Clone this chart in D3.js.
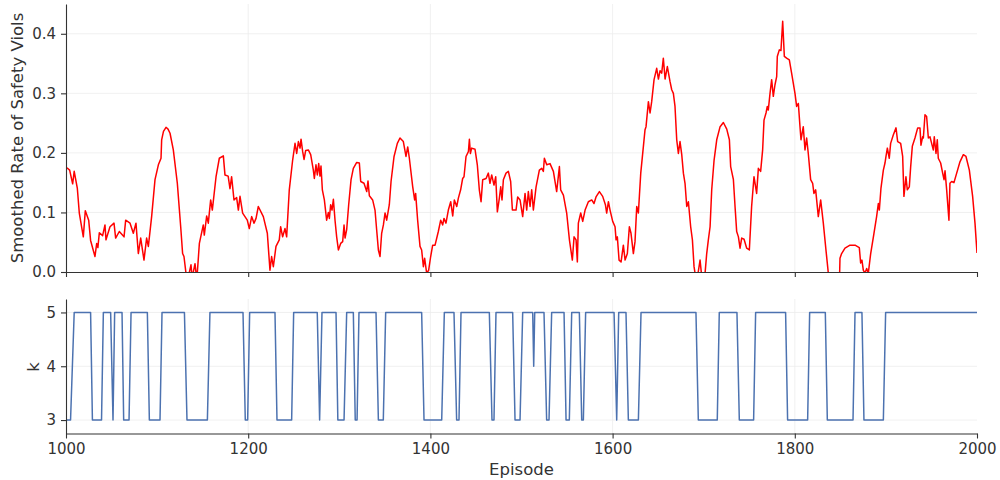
<!DOCTYPE html>
<html>
<head>
<meta charset="utf-8">
<script src="https://cdn.jsdelivr.net/npm/d3@7"></script>
<style>
    body { margin:0; background:#fff; }
    svg text { font-family:"DejaVu Sans", sans-serif; }
</style>
</head>
<body>
<svg id="chart" width="1000" height="480"></svg>
<script>
// smoothed violation rate
const violEpisodes = [
    1001,1004,1007.3,1009,1012.4,1014.6,1019,1021.2,1024.9,1027,1031.8,1033.7,1035,1036.6,1040.2,1042.8,1043.9,1048.3,
    1052.7,1054.5,1058.5,1063.7,1065.5,1070.3,1073.9,1076.8,1079.4,1082,1085.6,1088.5,1090.4,1094,1097.7,1101.4,1104.3,
    1105,1107,1109.8,1112,1114.2,1117.8,1122.2,1125.9,1128,1129.5,1131.7,1134,1137.2,1138.5,1141.6,1143,1144.2,1146.4,
    1150.7,1151.8,1154.4,1156.2,1158.8,1160.6,1164.7,1168.3,1172.7,1174.5,1178,1180,1181.8,1184.4,1187.3,1189.2,1191,
    1193.9,1199,1201.2,1203.8,1206.4,1208.6,1211.1,1216.6,1221,1223.9,1225.7,1227.6,1230.5,1234.1,1235.6,1237.8,1240.4,
    1242.2,1245.1,1248.8,1251.4,1253.2,1255.1,1256.9,1258,1259.8,1261.3,1263.1,1266,1268.6,1271.5,1272.6,1274.4,1275.9,
    1277.4,1278.8,1279.9,1281.4,1283.6,1286.1,1288,1289.1,1290.5,1292,1293.5,1295.3,1297.1,1299,1301.5,1303.7,1305.2,
    1306.3,1308.1,1310.3,1312.9,1315.4,1319.1,1322,1323.5,1327.1,1330.1,1331.5,1333,1336.6,1339.2,1341,1342.9,1344.7,
    1346.5,1348.4,1350.2,1352,1354.9,1356.8,1360.1,1363.7,1366.6,1370.3,1373.2,1375.1,1376.9,1380.6,1382.7,1383.8,1386,
    1388.6,1390.4,1392.3,1393.7,1395.9,1398.1,1400.3,1402.5,1405.1,1408.7,1411.3,1413.5,1414.9,1417.1,1419.7,1422.3,
    1424.5,1426.3,1428.9,1430.7,1433.2,1435.4,1436.9,1439.1,1441.7,1442.8,1443.9,1445.3,1449,1451.5,1453.7,1455.6,
    1457.4,1461.1,1463.6,1465.4,1467.3,1469.8,1471.7,1473.5,1475.7,1477.2,1478.6,1480.1,1483,1485.6,1488.1,1490,1494,
    1495.8,1498.4,1501.3,1503.9,1505.7,1507.5,1509.4,1511.2,1513,1516,1519.6,1522.2,1524,1525.1,1527.7,1531.3,1535,
    1538.6,1541.6,1543,1546,1549.6,1552.6,1555.8,1557.7,1559.9,1561.3,1562.4,1565,1567.2,1569.8,1573.4,1577.1,1579.6,
    1581.8,1585.5,1589.1,1592.1,1593.5,1595.4,1597.2,1600.1,1602.7,1603.8,1605.2,1607.1,1609.3,1611.8,1613.7,1616.2,
    1618.4,1620.2,1622.8,1624.6,1626.5,1628.3,1630.9,1633.8,1635.6,1636.7,1639.3,1641.1,1642.9,1645.5,1648.4,1650.3,
    1652.1,1653.9,1655.7,1657.6,1660.1,1663,1664.9,1666.7,1668.5,1670.4,1672.2,1674,1675.9,1677.7,1679.5,1681.4,1683.2,
    1685.7,1687.6,1689.4,1690.5,1693,1696,1698,1701.5,1703.3,1705.1,1707,1708.8,1711.4,1714.3,1718,1721.6,1725.3,
    1728.2,1729.6,1732.6,1734.4,1736.2,1738.1,1739.9,1741.7,1744.3,1747.2,1750.1,1752.6,1755.2,1758.1,1760,1762.5,
    1764.7,1766.2,1768.4,1769.8,1770.9,1772.8,1774.6,1776.4,1778.2,1780.1,1780.8,1783,1784.8,1786.7,1788.5,1791,1794,
    1796.5,1800.2,1802,1803.9,1805.7,1806.8,1809.3,1811.2,1813,1814.8,1817.4,1819.6,1821,1822.9,1825.8,1828.4,1831.3,
    1834.2,1836.8,1840,1845,1848.5,1849.6,1851.4,1855.1,1860.6,1866.1,1870.8,1872.3,1873.7,1875.2,1877,1878.9,1880.7,
    1883.3,1886.9,1889.8,1891.7,1892.8,1894.6,1897.2,1899,1900.1,1901.6,1903.7,1905.2,1908.1,1911.1,1912.9,1916.2,
    1918.4,1919.8,1922,1923.5,1925.7,1927.2,1929,1931.9,1934.9,1937.4,1938.5,1940.3,1941.1,1942.9,1944.7,1946.6,1948.4,
    1950.2,1952,1953.1,1955,1956.4,1957.5,1960.1,1962.3,1963.8,1964.9,1966.7,1969.2,1970.3,1972.2,1974.7,1977.7,1981.3,
    1985,1987.9,1991.6,1995.2,1997.8,2000
];
const violRates = [
    0.175,0.171,0.148,0.169,0.141,0.099,0.059,0.103,0.087,0.053,0.026,0.048,0.041,0.066,0.061,0.079,0.054,0.076,
    0.082,0.057,0.068,0.059,0.087,0.082,0.065,0.082,0.031,0.057,0.020,0.057,0.043,0.093,0.155,0.180,0.191,
    0.222,0.236,0.243,0.240,0.233,0.205,0.149,0.076,0.031,0.026,-0.002,-0.010,0.012,-0.010,0.014,-0.005,0.000,0.048,
    0.079,0.062,0.094,0.082,0.121,0.104,0.160,0.191,0.195,0.163,0.161,0.140,0.160,0.121,0.125,0.104,0.127,
    0.099,0.087,0.073,0.093,0.082,0.090,0.110,0.093,0.065,0.003,0.026,0.009,0.043,0.054,0.076,0.059,0.073,
    0.059,0.138,0.188,0.216,0.199,0.219,0.208,0.223,0.202,0.189,0.204,0.205,0.197,0.171,0.157,0.180,0.163,
    0.182,0.161,0.178,0.138,0.121,0.087,0.100,0.090,0.113,0.104,0.122,0.087,0.059,0.037,0.048,0.051,0.079,
    0.057,0.071,0.113,0.155,0.174,0.184,0.183,0.152,0.149,0.135,0.153,0.128,0.121,0.104,0.071,0.037,0.026,
    0.065,0.079,0.099,0.087,0.113,0.152,0.194,0.216,0.225,0.219,0.194,0.210,0.191,0.143,0.121,0.132,0.087,
    0.043,0.037,0.009,0.023,-0.002,0.003,0.026,0.045,0.045,0.068,0.087,0.079,0.090,0.082,0.104,0.118,
    0.094,0.121,0.110,0.124,0.138,0.157,0.160,0.194,0.202,0.223,0.199,0.208,0.206,0.180,0.138,0.118,
    0.155,0.157,0.166,0.149,0.163,0.146,0.160,0.101,0.124,0.143,0.121,0.155,0.166,0.169,0.152,0.104,0.104,
    0.126,0.121,0.093,0.132,0.104,0.135,0.110,0.138,0.104,0.143,0.171,0.174,0.169,0.191,0.180,0.182,0.169,
    0.135,0.177,0.138,0.129,0.099,0.054,0.020,0.059,0.054,0.017,0.082,0.099,0.085,0.104,0.118,0.121,0.115,
    0.126,0.135,0.127,0.113,0.099,0.118,0.104,0.085,0.076,0.054,0.059,0.020,0.017,0.045,0.020,0.031,
    0.076,0.065,0.031,0.051,0.110,0.099,0.166,0.211,0.239,0.244,0.286,0.267,0.286,0.323,0.342,0.324,
    0.338,0.334,0.359,0.324,0.345,0.320,0.306,0.300,0.278,0.222,0.199,0.219,0.197,0.166,0.149,0.110,0.118,
    0.076,0.054,0.009,-0.002,-0.010,0.020,-0.010,-0.002,0.031,0.054,0.076,0.138,0.188,0.222,0.244,0.251,0.240,
    0.222,0.177,0.155,0.110,0.068,0.059,0.040,0.057,0.055,0.040,0.037,0.110,0.160,0.132,0.174,0.169,
    0.205,0.255,0.267,0.278,0.272,0.300,0.323,0.295,0.314,0.328,0.362,0.373,0.372,0.421,0.362,0.359,0.356,
    0.334,0.300,0.278,0.283,0.244,0.222,0.244,0.205,0.225,0.199,0.155,0.149,0.132,0.138,0.093,0.121,0.082,
    0.037,-0.002,-0.060,-0.090,-0.050,0.023,0.031,0.040,0.045,0.045,0.041,0.015,0.020,0.003,-0.002,0.006,-0.002,
    0.031,0.065,0.093,0.115,0.104,0.141,0.171,0.183,0.194,0.208,0.191,0.216,0.230,0.242,0.219,0.216,
    0.194,0.127,0.160,0.138,0.143,0.177,0.211,0.225,0.242,0.242,0.213,0.227,0.225,0.264,0.261,0.225,0.227,
    0.216,0.205,0.227,0.199,0.222,0.191,0.183,0.166,0.155,0.170,0.138,0.087,0.149,0.152,0.150,0.166,0.185,
    0.197,0.194,0.171,0.127,0.082,0.032
];

// k per episode (corners of the step trace)
const kEpisodes = [
    1000,1005,1009,1027,1029,1039,1041,1049,1051.6,1053.4,1061.5,1063.3,1069.2,1071.4,1089.3,1091.5,1103.2,1105.4,
    1130,1132.8,1155.2,1158,1194.3,1196.8,1199.4,1201.6,1229.4,1231.6,1247.7,1249.9,1275.8,1278.4,1281,1296.4,1298.4,
    1305.2,1308.1,1315.4,1317.5,1319.5,1321.6,1340.3,1342.9,1348.3,1350.9,1390.4,1393,1412.4,1415.3,1425.9,1428.8,
    1431.4,1433.6,1464.7,1467.6,1469.8,1472,1490.3,1492.9,1498.4,1501.3,1512.3,1513.4,1514.5,1524.7,1527.6,1530.2,
    1533.1,1546.7,1548.9,1552.5,1555.1,1563.5,1566.1,1567.9,1570.4,1601.6,1604.5,1606.7,1614.7,1617.3,1628.3,1631.2,
    1691.5,1694.1,1714.9,1717.1,1736.5,1739.1,1754.8,1757,1789.9,1792.1,1814.1,1816.3,1833.5,1835.7,1863.9,1866.1,
    1873.7,1875.9,1897.2,1899.7,2000
];
const kValues = [
    3,3,5,5,3,3,5,5,3,5,5,3,3,5,5,3,3,5,
    5,3,3,5,5,3,3,5,5,3,3,5,5,3,5,5,3,
    3,5,5,3,3,5,5,3,3,5,5,3,3,5,5,3,
    3,5,5,3,3,5,5,3,3,5,5,4,5,5,3,3,
    5,5,3,3,5,5,3,3,5,5,3,5,5,3,3,5,
    5,3,3,5,5,3,3,5,5,3,3,5,5,3,3,5,
    5,3,3,5,5
];

const xTicks = [1000, 1200, 1400, 1600, 1800, 2000];
const violTicks = [0, 0.1, 0.2, 0.3, 0.4];
const kTicks = [3, 4, 5];

const AXIS_COLOUR = "#333";
const GRID_COLOUR = "#ececec";
const TICK_FONTSIZE = 15;
const LABEL_FONTSIZE = 16.5;

const svg = d3.select("#chart");
const left = 66, right = 977;

const x = d3.scaleLinear().domain([1000, 2000]).range([left, right]);

function drawPanel({ id, top, bottom, yDomain, yTicks, yFormat, xs, ys, colour, showXLabels }) {
    const y = d3.scaleLinear().domain(yDomain).range([bottom, top]);
    const g = svg.append("g").attr("class", `panel-${id}`);

    //grid
    g.append("g").selectAll("line.vgrid").data(xTicks.slice(1, -1))
        .join("line")
            .attr("class", "vgrid")
            .attr("x1", d => x(d)).attr("x2", d => x(d))
            .attr("y1", top).attr("y2", bottom)
            .attr("stroke", GRID_COLOUR)
            .attr("stroke-width", 0.8);
    g.append("g").selectAll("line.hgrid").data(yTicks.filter(d => y(d) < bottom - 1))
        .join("line")
            .attr("class", "hgrid")
            .attr("x1", left).attr("x2", right)
            .attr("y1", d => y(d)).attr("y2", d => y(d))
            .attr("stroke", GRID_COLOUR)
            .attr("stroke-width", 0.8);

    svg.append("clipPath").attr("id", `clip-${id}`)
        .append("rect")
            .attr("x", left).attr("y", top)
            .attr("width", right - left).attr("height", bottom - top);

    const line = d3.line()
        .x((d, i) => x(xs[i]))
        .y((d, i) => y(ys[i]));

    g.append("path")
        .datum(ys)
        .attr("clip-path", `url(#clip-${id})`)
        .attr("fill", "none")
        .attr("stroke", colour)
        .attr("stroke-width", 1.5)
        .attr("stroke-linejoin", "round")
        .attr("d", line);

    //axes
    const yAxis = d3.axisLeft(y).tickValues(yTicks).tickFormat(yFormat)
        .tickSize(5).tickSizeOuter(0).tickPadding(5);
    const xAxis = d3.axisBottom(x).tickValues(xTicks)
        .tickFormat(showXLabels ? d3.format("d") : () => "")
        .tickSize(5).tickSizeOuter(0).tickPadding(5);

    const yG = g.append("g").attr("transform", `translate(${left},0)`).call(yAxis);
    const xG = g.append("g").attr("transform", `translate(0,${bottom})`).call(xAxis);

    [yG, xG].forEach(axisG => {
        axisG.select(".domain").attr("stroke", AXIS_COLOUR).attr("stroke-width", 1.1);
        axisG.selectAll(".tick line").attr("stroke", AXIS_COLOUR).attr("stroke-width", 1.1);
        axisG.selectAll(".tick text")
            .attr("fill", AXIS_COLOUR)
            .style("font-size", `${TICK_FONTSIZE}px`)
            .style("font-family", "DejaVu Sans");
    });

    return y;
}

drawPanel({
    id:"viol", top:4, bottom:272, yDomain:[0, 0.45], yTicks:violTicks, yFormat:d3.format(".1f"),
    xs:violEpisodes, ys:violRates, colour:"red", showXLabels:false
});
drawPanel({
    id:"k", top:299, bottom:433.5, yDomain:[2.75, 5.25], yTicks:kTicks, yFormat:d3.format("d"),
    xs:kEpisodes, ys:kValues, colour:"#4c72b0", showXLabels:true
});

//labels
svg.append("text")
    .attr("transform", `translate(17,138) rotate(-90)`)
    .attr("text-anchor", "middle")
    .attr("dominant-baseline", "central")
    .attr("fill", AXIS_COLOUR)
    .style("font-size", `${LABEL_FONTSIZE}px`)
    .text("Smoothed Rate of Safety Viols");

svg.append("text")
    .attr("transform", `translate(33,367) rotate(-90)`)
    .attr("text-anchor", "middle")
    .attr("dominant-baseline", "central")
    .attr("fill", AXIS_COLOUR)
    .style("font-size", `${LABEL_FONTSIZE}px`)
    .text("k");

svg.append("text")
    .attr("x", (left + right) / 2)
    .attr("y", 475)
    .attr("text-anchor", "middle")
    .attr("fill", AXIS_COLOUR)
    .style("font-size", `${LABEL_FONTSIZE}px`)
    .text("Episode");
</script>
</body>
</html>
